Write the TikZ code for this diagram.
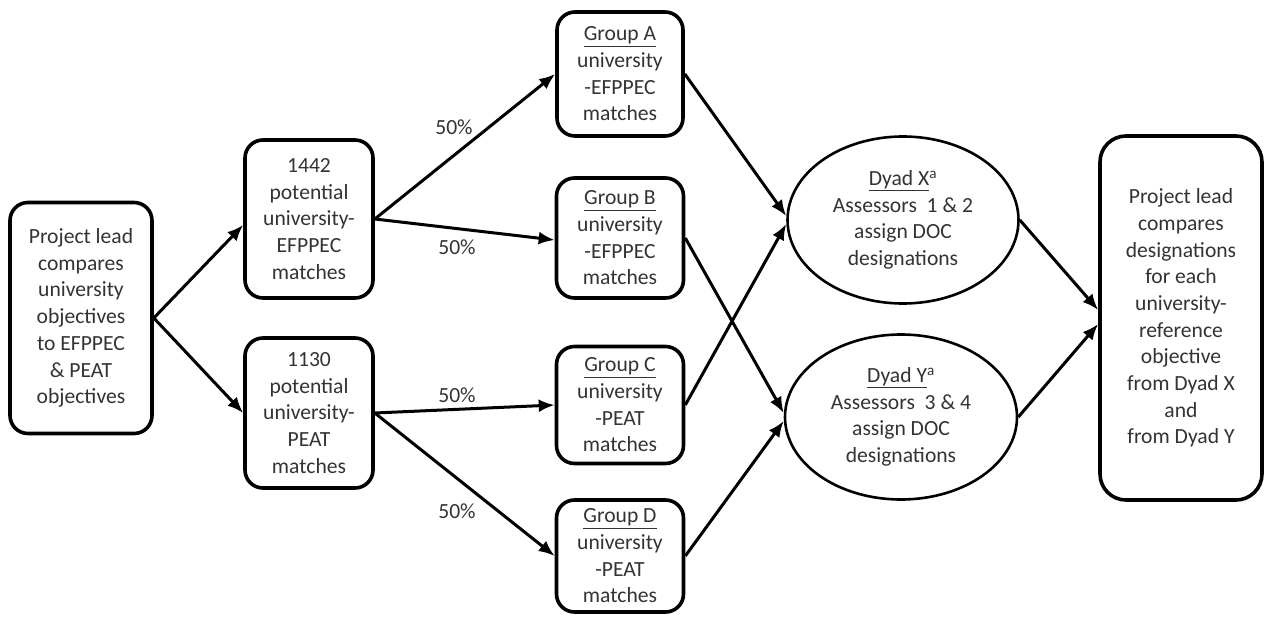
\documentclass[tikz,border=0pt]{standalone}
\usepackage{fontspec}
\setmainfont{Carlito}
\usetikzlibrary{arrows.meta,shapes.geometric}
\begin{document}
\begin{tikzpicture}[x=1pt,y=-1pt,
  txt/.style={font=\fontsize{21.6}{26.7}\selectfont, text=black!80},
  box/.style={txt, draw, line width=3.6pt, rounded corners=18pt, align=center, inner sep=0pt},
  oval/.style={txt, draw, ellipse, line width=2.6pt, align=center, inner sep=0pt},
  arr/.style={-{Latex[length=16pt,width=13pt]}, line width=3pt},
  pct/.style={txt}]
\useasboundingbox (0,0) rectangle (1264,618);
\node[box, minimum width=142pt, minimum height=231pt] (P) at (81,318)
  {Project lead\\compares\\university\\objectives\\to EFPPEC\\\&~PEAT\\objectives};
\node[box, minimum width=128pt, minimum height=158pt] (N1) at (309,219)
  {1442\\potential\\university-\\EFPPEC\\matches};
\node[box, minimum width=128pt, minimum height=150pt] (N2) at (309,413)
  {1130\\potential\\university-\\PEAT\\matches};
\node[box, minimum width=126pt, minimum height=124pt] (A) at (620,74)
  {\underline{Group A}\\university\\-EFPPEC\\matches};
\node[box, minimum width=127pt, minimum height=120pt] (B) at (620,238)
  {\underline{Group B}\\university\\-EFPPEC\\matches};
\node[box, minimum width=127pt, minimum height=117pt] (C) at (620,405)
  {\underline{Group C}\\university\\-PEAT\\matches};
\node[box, minimum width=127pt, minimum height=112pt] (D) at (620,556)
  {\underline{Group D}\\university\\-PEAT\\matches};
\node[oval, minimum width=231pt, minimum height=167pt] (X) at (903,220)
  {\underline{Dyad X}\textsuperscript{a}\\Assessors~ 1 \& 2\\assign DOC\\designations};
\node[oval, minimum width=232pt, minimum height=165pt] (Y) at (901,417)
  {\underline{Dyad Y}\textsuperscript{a}\\Assessors~ 3 \& 4\\assign DOC\\designations};
\node[box, rounded corners=26pt, minimum width=162pt, minimum height=364pt] (F) at (1181,318)
  {Project lead\\compares\\designations\\for each\\university-\\reference\\objective\\from Dyad X\\and\\from Dyad Y};
\draw[arr] (P.east) -- ([yshift=-6pt]N1.west);
\draw[arr] (P.east) -- (N2.west);
\draw[arr] (N1.east) -- (A.west);
\draw[arr] (N1.east) -- ([yshift=-2pt]B.west);
\draw[arr] (N2.east) -- (C.west);
\draw[arr] (N2.east) -- (D.west);
\draw[arr] (A.east) -- ([yshift=4pt]X.west);
\draw[arr] (C.east) -- ([yshift=-4pt]X.west);
\draw[arr] (B.east) -- ([yshift=4pt]Y.west);
\draw[arr] (D.east) -- ([yshift=-4pt]Y.west);
\draw[arr] (X.east) -- ([yshift=8pt]F.west);
\draw[arr] (Y.east) -- ([yshift=-6pt]F.west);
\node[pct] (p1) at (454,127) {50\%};
\node[pct] (p2) at (457,247) {50\%};
\node[pct] (p3) at (457,395) {50\%};
\node[pct] (p4) at (457,511) {50\%};
\end{tikzpicture}
\end{document}
